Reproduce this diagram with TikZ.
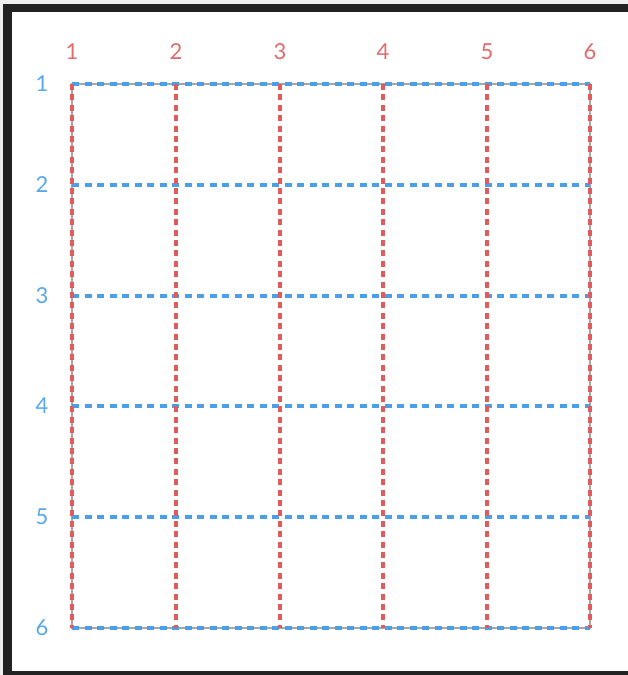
\documentclass[tikz,border=0pt]{standalone}
\usepackage{fontspec}
\setmainfont{Lato}
\definecolor{gridred}{HTML}{E05C5C}
\definecolor{gridblue}{HTML}{4A9FE8}
\definecolor{labred}{HTML}{E06B6B}
\definecolor{labblue}{HTML}{5AA8EC}
\definecolor{framedark}{HTML}{222222}
\definecolor{framelight}{HTML}{EEEEEE}
\begin{document}
\begin{tikzpicture}[x=1pt,y=-1pt,
  redline/.style={draw=gridred,line width=3.4pt,dash pattern=on 6pt off 4.4pt},
  blueline/.style={draw=gridblue,line width=3.4pt,dash pattern=on 7pt off 5.5pt},
  collab/.style={text=labred,font=\fontsize{22}{22}\selectfont,inner sep=0pt},
  rowlab/.style={text=labblue,font=\fontsize{22}{22}\selectfont,inner sep=0pt},
  outline/.style={draw=gray!70,line width=2.4pt}]
\useasboundingbox (0,0) rectangle (628,675);
\fill[white] (0,0) rectangle (628,675);
\fill[framelight] (0,0) rectangle (628,4);
\fill[framelight] (0,0) rectangle (3,675);
\fill[framedark] (3,4) rectangle (628,12);
\fill[framedark] (3,4) rectangle (12,675);
\fill[framedark] (3,671) rectangle (628,675);
% grid coordinates
\foreach \i/\x in {1/72,2/176,3/280,4/383,5/487,6/590}{
  \coordinate (t\i) at (\x,84);
  \coordinate (b\i) at (\x,628);
  \node[collab] (c\i) at (\x,52) {\i};
}
\foreach \j/\y in {1/84,2/185,3/296,4/406,5/517,6/628}{
  \coordinate (l\j) at (72,\y);
  \coordinate (r\j) at (590,\y);
  \node[rowlab] (r\j lab) at (42,\y) {\j};
}
\draw[outline] (t1) rectangle (b6);
\foreach \j in {1,...,6}{ \draw[blueline] (l\j) -- (r\j); }
\foreach \i in {1,...,6}{ \draw[redline] (t\i) -- (b\i); }
\end{tikzpicture}
\end{document}
